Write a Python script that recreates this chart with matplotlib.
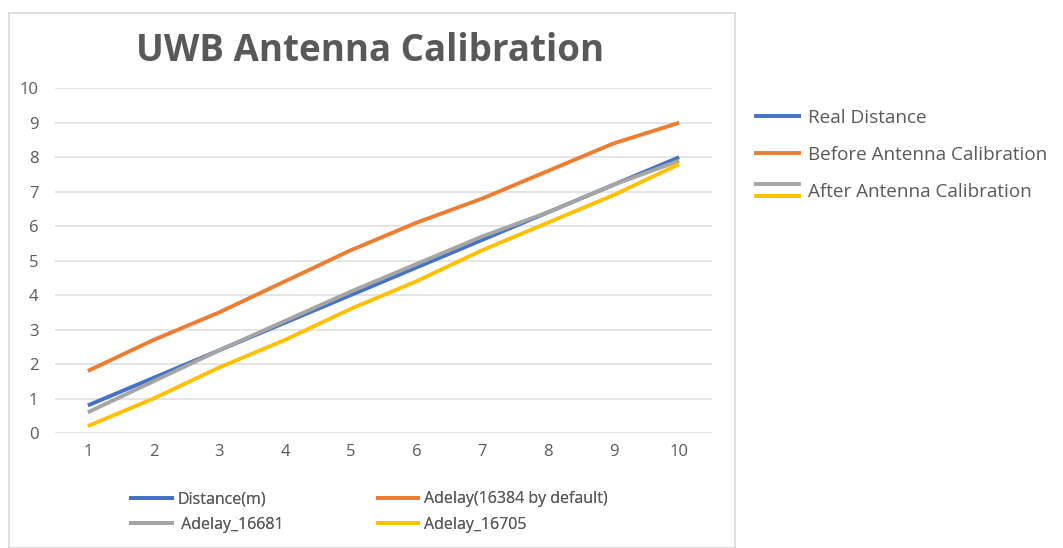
import matplotlib
matplotlib.use("Agg")
import matplotlib.pyplot as plt
from matplotlib.lines import Line2D
from matplotlib.legend_handler import HandlerBase
from matplotlib.patches import Rectangle

x = [1, 2, 3, 4, 5, 6, 7, 8, 9, 10]
distance = [0.8, 1.6, 2.4, 3.2, 4.0, 4.8, 5.6, 6.4, 7.2, 8.0]
adelay_default = [1.8, 2.7, 3.5, 4.4, 5.3, 6.1, 6.8, 7.6, 8.4, 9.0]
adelay_16681 = [0.6, 1.5, 2.4, 3.25, 4.1, 4.9, 5.7, 6.4, 7.2, 7.9]
adelay_16705 = [0.2, 1.0, 1.9, 2.7, 3.6, 4.4, 5.3, 6.1, 6.9, 7.8]

labels = ["Distance(m)", "Adelay(16384 by default)", " Adelay_16681", "Adelay_16705"]
colors = ["#4472C4", "#ED7D31", "#A5A5A5", "#FFC000"]
series = [distance, adelay_default, adelay_16681, adelay_16705]
right_labels = ["Real Distance", "Before Antenna Calibration", "After Antenna Calibration"]
title = "UWB Antenna Calibration"

plt.rcParams['font.family'] = ['Open Sans', 'DejaVu Sans']
fig = plt.figure(figsize=(10.63, 5.48), dpi=100)
W, H = 1063, 548
ax = fig.add_axes([55 / W, 1 - 433 / H, (712 - 55) / W, (433 - 88.3) / H])

handles = []
for ys, c, lab in zip(series, colors, labels):
    h, = ax.plot(x, ys, color=c, lw=2.8, label=lab, solid_capstyle='butt')
    handles.append(h)

ax.set_xlim(0.5, 10.5)
ax.set_ylim(0, 10)
ax.set_xticks(x)
ax.set_yticks(range(0, 11))
ax.grid(axis='y', color='#E3E3E3', lw=1.3)
ax.set_axisbelow(True)
for s in ax.spines.values():
    s.set_visible(False)
ax.tick_params(length=0, labelsize=12, labelcolor='#595959', pad=8)
ax.tick_params(axis='y', pad=12)

fig.text(370 / W, 1 - 51 / H, title, ha='center', va='center', fontsize=26.5,
         fontweight='bold', color='#595959')

# outer chart border
fig.patches.append(Rectangle((9 / W, 0), (735 - 9) / W, 1 - 13 / H, transform=fig.transFigure,
                             fill=False, edgecolor='#D9D9D9', lw=1.2))

# row-wise order for a two-column legend
order = [0, 2, 1, 3]
leg1 = fig.legend(handles=[handles[i] for i in order], labels=[labels[i] for i in order],
                  loc='upper left', ncol=2,
                  bbox_to_anchor=(115 / W, 1 - 477 / H), frameon=False, fontsize=11.5,
                  handlelength=2.8, handletextpad=0.2, columnspacing=5.75,
                  labelspacing=0.6, labelcolor='#595959')


class DoubleLine(HandlerBase):
    def create_artists(self, legend, orig_handle, xdescent, ydescent, width, height,
                       fontsize, trans):
        y0 = height / 2 - ydescent
        l1 = Line2D([-xdescent, -xdescent + width], [y0 + 4.5, y0 + 4.5], color=colors[2], lw=2.8)
        l2 = Line2D([-xdescent, -xdescent + width], [y0 - 4.5, y0 - 4.5], color=colors[3], lw=2.8)
        for l in (l1, l2):
            l.set_transform(trans)
        return [l1, l2]


dl = Line2D([], [])
rh = [Line2D([], [], color=colors[0], lw=2.8), Line2D([], [], color=colors[1], lw=2.8), dl]
leg2 = fig.legend(handles=rh, labels=right_labels,
                  handler_map={dl: DoubleLine()}, loc='upper left',
                  bbox_to_anchor=(739 / W, 1 - 92 / H),
                  frameon=False, fontsize=13.6, handlelength=2.3, handletextpad=0.45,
                  labelspacing=1.0, labelcolor='#595959')
fig.add_artist(leg1)

fig.savefig("out.png", dpi=100)
